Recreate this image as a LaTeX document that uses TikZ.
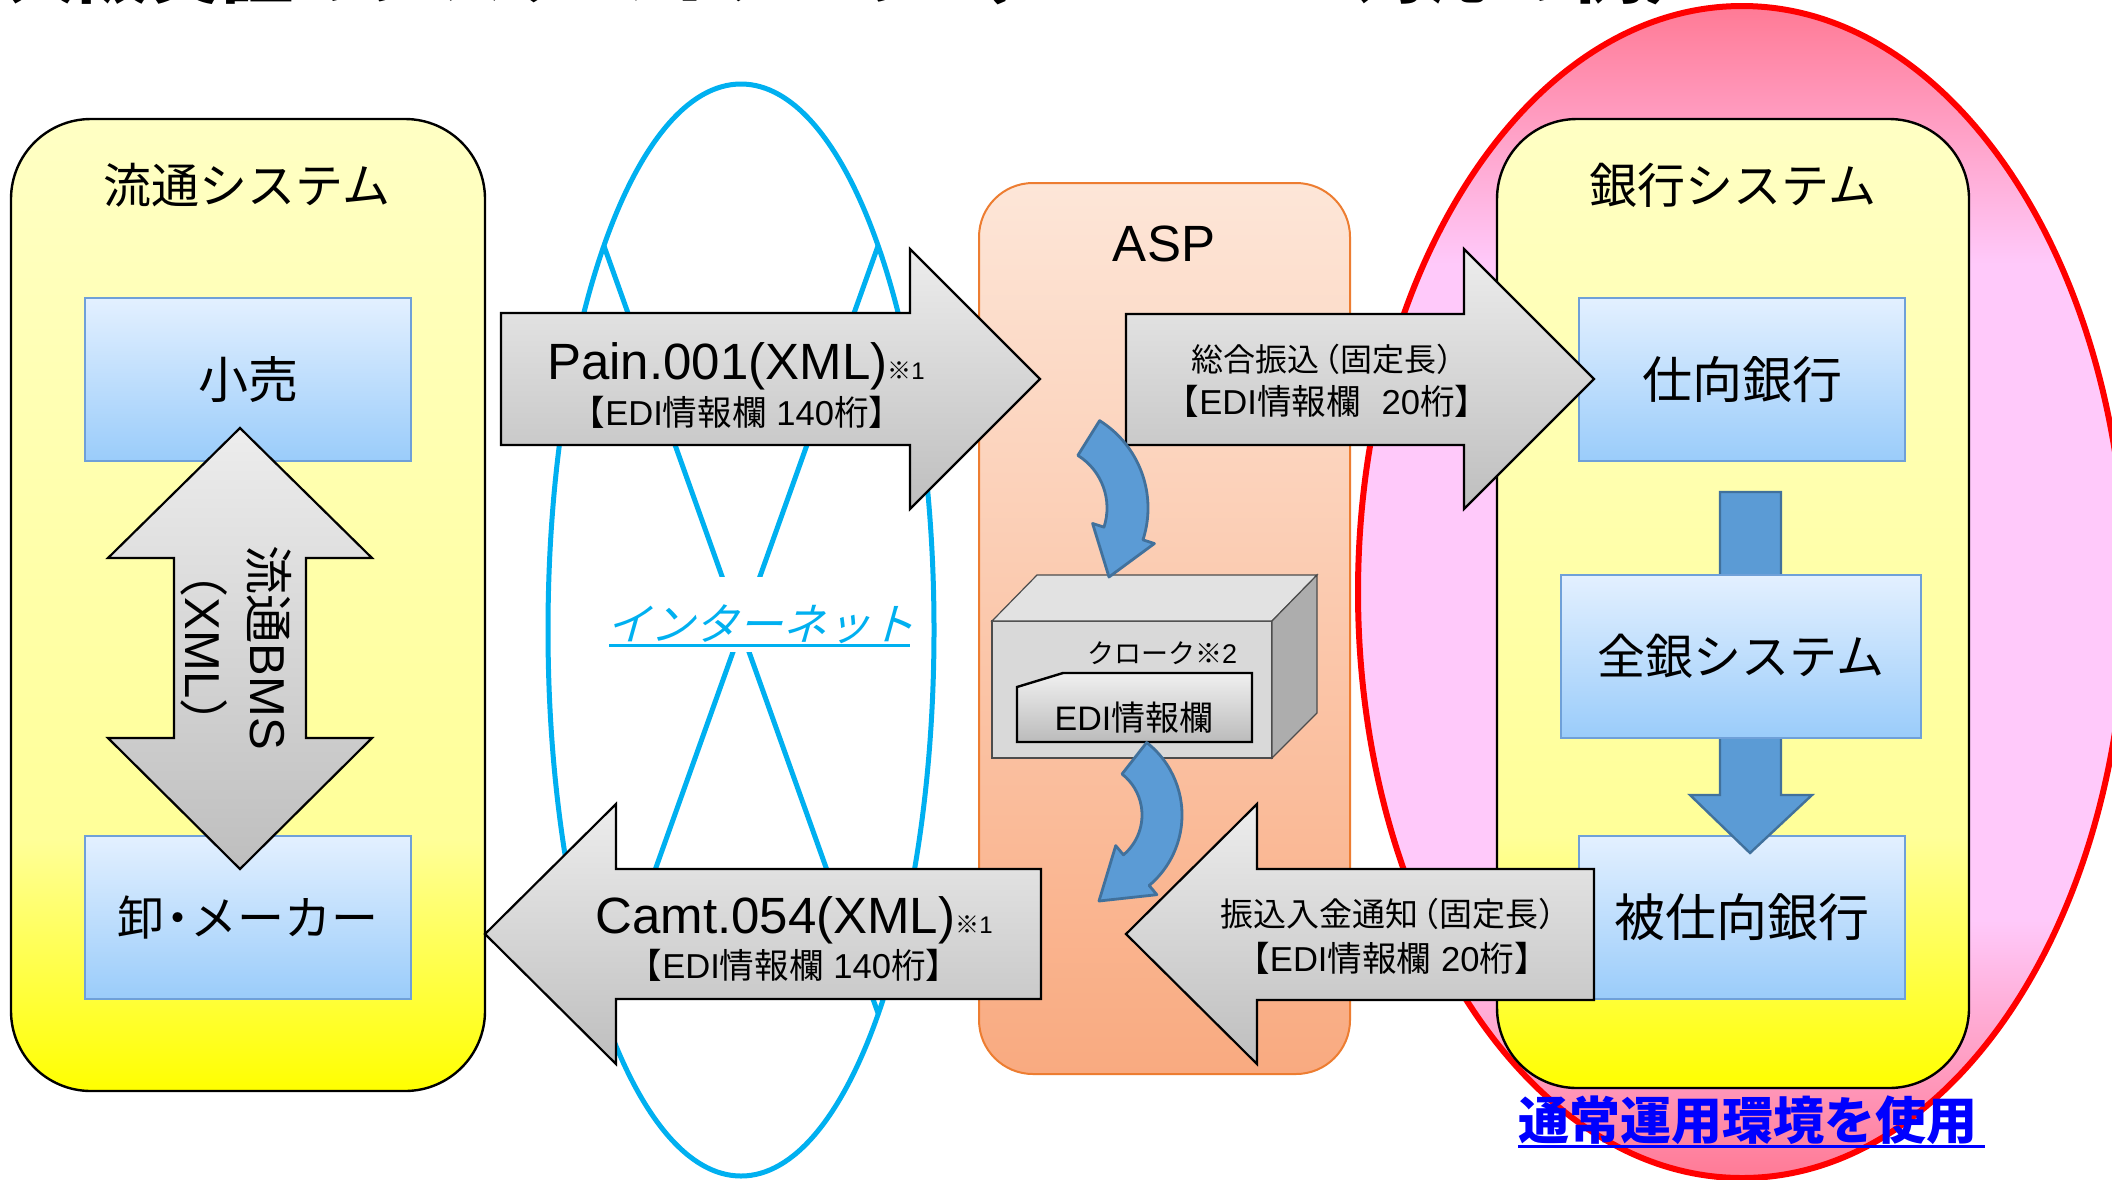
\documentclass[tikz,border=0pt]{standalone}
\usepackage{fontspec}
\setmainfont{Liberation Sans}
\newfontfamily\jp{Noto Sans CJK JP}
\newfontfamily\jpsl[FakeSlant=0.28]{Noto Sans CJK JP}
\usetikzlibrary{calc}
\newcommand{\setfs}[1]{\fontsize{#1}{#1}\selectfont}
\definecolor{cyanc}{HTML}{00B0F0}
\definecolor{boxborder}{HTML}{6FA0D8}
\definecolor{bluetop}{HTML}{E3F0FF}
\definecolor{bluebot}{HTML}{9ACCFA}
\definecolor{graytop}{HTML}{EDEDED}
\definecolor{graybot}{HTML}{BEBEBE}
\definecolor{asptop}{HTML}{FDE6D8}
\definecolor{aspbot}{HTML}{F9AA80}
\definecolor{aspborder}{HTML}{ED7D31}
\definecolor{pinkl}{HTML}{FFC9FA}
\definecolor{pinkd}{HTML}{FF7A95}
\definecolor{yl}{HTML}{FFFFC4}
\definecolor{ym}{HTML}{FFFF99}
\definecolor{yd}{HTML}{FFFF00}
\definecolor{arrowblue}{HTML}{5B9BD5}
\definecolor{arrowblueb}{HTML}{41719C}
\definecolor{cubefront}{HTML}{D9D9D9}
\definecolor{cubetop}{HTML}{E2E2E2}
\definecolor{cubeside}{HTML}{ADADAD}
\definecolor{tabtop}{HTML}{F0F0F0}
\definecolor{tabbot}{HTML}{BBBBBB}
\pgfdeclareverticalshading{pinkv}{100bp}{color(0bp)=(pinkd); color(25bp)=(pinkd); color(36bp)=(pinkl); color(64bp)=(pinkl); color(75bp)=(pinkd); color(100bp)=(pinkd)}
\pgfdeclareverticalshading{yellowv}{100bp}{color(0bp)=(yd); color(25bp)=(yd); color(38bp)=(ym); color(75bp)=(yl); color(100bp)=(yl)}
\begin{document}
\begin{tikzpicture}[x=0.5pt,y=-0.5pt,
  every node/.style={inner sep=0pt, outer sep=0pt},
  bluebox/.style={draw=boxborder, line width=1pt, top color=bluetop, bottom color=bluebot, minimum width=163pt, minimum height=81.5pt},
  graybig/.style={draw=black, line width=1.1pt, top color=graytop, bottom color=graybot, line join=miter},
  curved/.style={fill=arrowblue, draw=arrowblueb, line width=1.4pt, line join=round},
  sysbox/.style={draw=black, line width=1.2pt, shading=yellowv, rounded corners=40pt},
]
\useasboundingbox (0,0) rectangle (2112,1179);
\clip (0,0) rectangle (2112,1179);
\fill[white] (0,0) rectangle (2112,1179);

% title (cut off at top)
\node[anchor=base west, font=\jp\bfseries\setfs{36}] (title) at (5,-3) {大阪実証のシステムイメージ（ISO20022対応の例）};

% pink ellipse
\path[shading=pinkv, draw=red, line width=3pt] (1742,592) ellipse [x radius=384, y radius=586];

% internet ellipse
\draw[cyanc, line width=2.5pt] (741,630) ellipse [x radius=193, y radius=546];
\coordinate (xa) at (604,246);
\coordinate (xb) at (878,1013);
\coordinate (xc) at (878,246);
\coordinate (xd) at (604,1013);
\draw[cyanc, line width=2.5pt] (xa) -- (xb);
\draw[cyanc, line width=2.5pt] (xc) -- (xd);
\fill[white] (690,577) rectangle (800,652);
\node[anchor=base, font=\jpsl\setfs{22}, text=cyanc] (inet) at (760,640) {インターネット};
\draw[cyanc, line width=1.5pt] (609,645) -- (910,645);

% system boxes
\path[sysbox] (11,119) rectangle (485,1091);
\node[font=\jp\setfs{24}] (ryutsu) at (247,185) {流通システム};
\path[sysbox] (1497,119) rectangle (1969,1088);
\node[font=\jp\setfs{24}] (ginko) at (1733,185) {銀行システム};

% ASP
\path[draw=aspborder, line width=1pt, top color=asptop, bottom color=aspbot, rounded corners=27pt] (979,183) rectangle (1350,1074);
\node[font=\setfs{25.5}] (asp) at (1164,244) {ASP};

% left blue boxes
\node[bluebox, font=\jp\setfs{25}] (kouri) at (248,379.5) {小売};
\node[bluebox, font=\jp\setfs{23.5}] (oroshi) at (248,917.5) {卸\hspace{-.22em}・\hspace{-.22em}メーカー};

% double arrow
\path[graybig] (240,428) -- (372,558) -- (306,558) -- (306,738) -- (372,738) -- (240,869) -- (108,738) -- (174,738) -- (174,558) -- (108,558) -- cycle;
\node[rotate=-90, align=center, font=\fontsize{24.5}{32.5}\selectfont] (bms) at (236,648) {{\jp 流通}BMS\\{\jp （}XML{\jp ）}};

% right blue boxes
\node[bluebox, font=\jp\setfs{25}] (shimuke) at (1742,379.5) {仕向銀行};
\node[bluebox, font=\jp\setfs{25.5}] (hishimuke) at (1742,917.5) {被仕向銀行};
\path[fill=arrowblue, draw=arrowblueb, line width=1.2pt] (1720,492) -- (1781,492) -- (1781,795) -- (1812,795) -- (1750,853) -- (1690,795) -- (1720,795) -- cycle;
\node[bluebox, minimum width=180pt, font=\jp\setfs{24}] (zengin) at (1741,656.5) {全銀システム};

% big gray arrows
\path[graybig] (501,313) -- (910,313) -- (910,249) -- (1040,379) -- (910,509) -- (910,445) -- (501,445) -- cycle;
\node[anchor=base] (pain1) at (736,379) {\setfs{25.5}Pain.001(XML)\setfs{12}{\jp ※}1};
\node[anchor=base] (pain2) at (737,425) {\setfs{17.3}{\jp 【}EDI{\jp 情報欄} 140{\jp 桁】}};

\path[graybig] (1041,869) -- (616,869) -- (616,804) -- (485,934) -- (616,1064) -- (616,999) -- (1041,999) -- cycle;
\node[anchor=base] (camt1) at (794,933) {\setfs{25.5}Camt.054(XML)\setfs{12}{\jp ※}1};
\node[anchor=base] (camt2) at (794,978) {\setfs{17.3}{\jp 【}EDI{\jp 情報欄} 140{\jp 桁】}};

\path[graybig] (1126,314) -- (1464,314) -- (1464,249) -- (1594,379) -- (1464,509) -- (1464,445) -- (1126,445) -- cycle;
\node[anchor=base, font=\jp\setfs{16}] (sogo1) at (1330,371) {総合振込\hspace{-0.35em}（固定長）};
\node[anchor=base] (sogo2) at (1327,414) {\setfs{17.3}{\jp 【}EDI{\jp 情報欄}\hspace{0.6em}20{\jp 桁】}};

\path[graybig] (1594,869) -- (1257,869) -- (1257,804) -- (1126,934) -- (1257,1064) -- (1257,1000) -- (1594,1000) -- cycle;
\node[anchor=base, font=\jp\setfs{16.5}] (furi1) at (1396,926) {振込入金通知\hspace{-0.35em}（固定長）};
\node[anchor=base] (furi2) at (1392,971) {\setfs{17.3}{\jp 【}EDI{\jp 情報欄} 20{\jp 桁】}};

% clerk box
\path[fill=cubefront, draw=black!70, line width=0.6pt] (992,621) rectangle (1272,758);
\path[fill=cubetop, draw=black!70, line width=0.6pt] (992,621) -- (1037,575) -- (1317,575) -- (1272,621) -- cycle;
\path[fill=cubeside, draw=black!70, line width=0.6pt] (1272,621) -- (1317,575) -- (1317,713) -- (1272,758) -- cycle;
\node[anchor=base, font=\setfs{13.5}] (cloak) at (1162,663) {{\jp クローク※}2};
\path[draw=black, line width=1.2pt, top color=tabtop, bottom color=tabbot] (1017,687) -- (1063,673) -- (1252,673) -- (1252,742) -- (1017,742) -- cycle;
\node[anchor=base] (edi) at (1134,730) {\setfs{17}EDI{\jp 情報欄}};

% curved arrows
\coordinate (C1) at (1045,508);
\path[curved] ($(C1)+(-58:103)$) arc[start angle=-58, end angle=18, radius=103] -- ($(C1)+(18:115)$) -- (1109,577) -- ($(C1)+(18:50)$) -- ($(C1)+(18:62)$) arc[start angle=18, end angle=-58, radius=62] -- cycle;
\coordinate (C2) at (1090,815);
\path[curved] ($(C2)+(-52:92)$) arc[start angle=-52, end angle=50, radius=92] -- ($(C2)+(50:104)$) -- (1099,901) -- ($(C2)+(50:40)$) -- ($(C2)+(50:52)$) arc[start angle=50, end angle=-52, radius=52] -- cycle;

% bottom note
\node[anchor=base, font=\jp\bfseries\setfs{25.5}, text=blue] (normal) at (1748,1139) {通常運用環境を使用};
\draw[blue, line width=1.5pt] (1518,1146) -- (1985,1146);
\end{tikzpicture}
\end{document}
